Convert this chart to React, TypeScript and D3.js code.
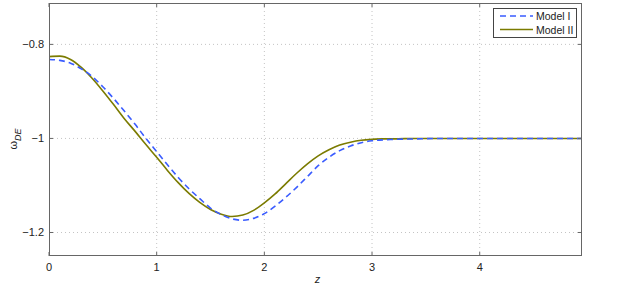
import React, { useEffect, useRef } from 'react';
import * as d3 from 'd3';

// redshift samples
const zValues = [0, 0.1, 0.2, 0.3, 0.4, 0.5, 0.6, 0.7, 0.8, 0.9, 1.0, 1.1, 1.2, 1.3, 1.4, 1.5, 1.6, 1.7, 1.8, 1.9, 2.0, 2.1, 2.2, 2.3, 2.4, 2.5, 2.6, 2.7, 2.8, 2.9, 3.0, 3.1, 3.2, 3.4, 3.6, 4.0, 4.5, 4.95];

const modelI = [-0.832, -0.834, -0.840, -0.852, -0.868, -0.890, -0.915, -0.942, -0.970, -1.000, -1.028, -1.056, -1.083, -1.107, -1.128, -1.148, -1.162, -1.171, -1.174, -1.170, -1.160, -1.144, -1.125, -1.104, -1.081, -1.058, -1.040, -1.026, -1.016, -1.009, -1.005, -1.003, -1.002, -1.001, -1.0, -1.0, -1.0, -1.0];

const modelII = [-0.826, -0.825, -0.832, -0.849, -0.872, -0.899, -0.928, -0.958, -0.985, -1.013, -1.040, -1.068, -1.094, -1.117, -1.136, -1.151, -1.161, -1.166, -1.163, -1.153, -1.137, -1.118, -1.096, -1.074, -1.054, -1.037, -1.024, -1.014, -1.008, -1.004, -1.002, -1.001, -1.001, -1.0, -1.0, -1.0, -1.0, -1.0];

const xTicks = [0, 1, 2, 3, 4];
const yTicks = [-0.8, -1, -1.2];
const seriesNames = ['Model I', 'Model II'];

const App = () => {
  const chartRef = useRef<SVGSVGElement>(null);

  useEffect(() => {
    const svg = d3.select(chartRef.current);
    svg.selectAll('*').remove();

    const left = 49, right = 582, top = 3, bottom = 256;
    const font = 'Liberation Sans, Arial, sans-serif';

    const x = d3.scaleLinear().domain([0, 4.95]).range([left, right]);
    const y = d3.scaleLinear().domain([-1.25, -0.712]).range([bottom, top]);

    svg.append('rect')
      .attr('x', left).attr('y', top)
      .attr('width', right - left).attr('height', bottom - top)
      .attr('fill', '#fff');

    // dotted grid
    const grid = svg.append('g').attr('stroke', '#c4c4c4').attr('stroke-dasharray', '1,3').attr('stroke-width', 1);
    xTicks.slice(1).forEach((t) => {
      grid.append('line').attr('x1', x(t)).attr('x2', x(t)).attr('y1', top).attr('y2', bottom);
    });
    yTicks.forEach((t) => {
      grid.append('line').attr('x1', left).attr('x2', right).attr('y1', y(t)).attr('y2', y(t));
    });

    // curves
    const line = (vals: number[]) =>
      d3.line<number>()
        .x((_, i) => x(zValues[i]))
        .y((d) => y(d))
        .curve(d3.curveMonotoneX)(vals);

    svg.append('path')
      .attr('d', line(modelII))
      .attr('fill', 'none')
      .attr('stroke', '#7b7b00')
      .attr('stroke-width', 1.6);

    svg.append('path')
      .attr('d', line(modelI))
      .attr('fill', 'none')
      .attr('stroke', '#3a5cff')
      .attr('stroke-width', 1.6)
      .attr('stroke-dasharray', '6,4');

    // box and inward ticks
    const ax = svg.append('g').attr('stroke', '#666').attr('stroke-width', 1);
    ax.append('rect')
      .attr('x', left + 0.5).attr('y', top + 0.5)
      .attr('width', right - left - 1).attr('height', bottom - top - 1)
      .attr('fill', 'none');
    xTicks.forEach((t) => {
      ax.append('line').attr('x1', x(t)).attr('x2', x(t)).attr('y1', bottom).attr('y2', bottom - 4);
      ax.append('line').attr('x1', x(t)).attr('x2', x(t)).attr('y1', top).attr('y2', top + 4);
    });
    yTicks.forEach((t) => {
      ax.append('line').attr('x1', left).attr('x2', left + 4).attr('y1', y(t)).attr('y2', y(t));
      ax.append('line').attr('x1', right).attr('x2', right - 4).attr('y1', y(t)).attr('y2', y(t));
    });

    // tick labels
    svg.selectAll('.xlab').data(xTicks).enter().append('text')
      .attr('x', (d) => x(d)).attr('y', bottom + 15)
      .attr('text-anchor', 'middle')
      .attr('font-family', font).attr('font-size', 11).attr('fill', '#222')
      .text((d) => String(d));

    svg.selectAll('.ylab').data(yTicks).enter().append('text')
      .attr('x', left - 5).attr('y', (d) => y(d) + 4)
      .attr('text-anchor', 'end')
      .attr('font-family', font).attr('font-size', 11).attr('fill', '#222')
      .text((d) => String(d).replace('-', '\u2212'));

    // axis titles
    svg.append('text')
      .attr('x', (left + right) / 2 + 2).attr('y', 283)
      .attr('text-anchor', 'middle')
      .attr('font-family', font).attr('font-size', 11).attr('font-style', 'italic').attr('fill', '#222')
      .text('z');

    const yt = svg.append('text')
      .attr('transform', 'translate(17,139) rotate(-90)')
      .attr('text-anchor', 'middle')
      .attr('font-family', font).attr('font-size', 11).attr('fill', '#222');
    yt.append('tspan').text('\u03c9');
    yt.append('tspan').attr('dy', 4).attr('font-size', 9).attr('font-style', 'italic').text('DE');

    // legend
    const lg = svg.append('g');
    lg.append('rect')
      .attr('x', 493.5).attr('y', 8.5).attr('width', 83).attr('height', 29)
      .attr('fill', '#fff').attr('stroke', '#444').attr('stroke-width', 1);
    const colors = ['#3a5cff', '#7b7b00'];
    seriesNames.forEach((name, i) => {
      const ly = 16 + i * 13.5;
      lg.append('line')
        .attr('x1', 500).attr('x2', 533).attr('y1', ly).attr('y2', ly)
        .attr('stroke', colors[i]).attr('stroke-width', 1.3)
        .attr('stroke-dasharray', i === 0 ? '6,4' : null);
      lg.append('text')
        .attr('x', 536).attr('y', ly + 4)
        .attr('font-family', font).attr('font-size', 10.5).attr('fill', '#222')
        .text(name);
    });
  }, []);

  return (
    <svg
      ref={chartRef}
      width={621}
      height={286}
      style={{ position: 'absolute', left: 0, top: 0, background: '#fff' }}
    />
  );
};

export default App;
